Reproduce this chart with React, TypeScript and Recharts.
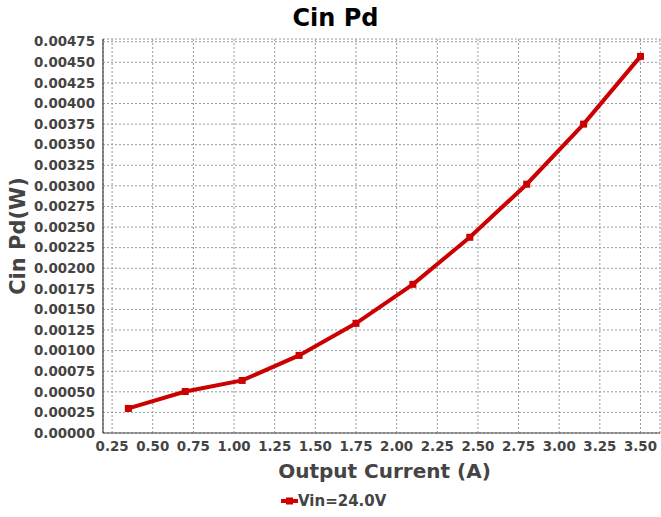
import { LineChart, Line, XAxis, YAxis, CartesianGrid, Label } from 'recharts';

const currents = [0.35, 0.7, 1.05, 1.4, 1.75, 2.1, 2.45, 2.8, 3.15, 3.5];
const cinPd = [0.000298, 0.000504, 0.000638, 0.000942, 0.001331, 0.001805, 0.002376, 0.00302, 0.00375, 0.004572];
const xTicks = [0.25, 0.5, 0.75, 1.0, 1.25, 1.5, 1.75, 2.0, 2.25, 2.5, 2.75, 3.0, 3.25, 3.5];
const yTicks = Array.from({ length: 20 }, (_, i) => +(i * 0.00025).toFixed(5));

const seriesName = 'Vin=24.0V';
const data = currents.map((x, i) => ({ x, y: cinPd[i] }));

const FONT = '"DejaVu Sans", sans-serif';
const RED = '#cc0000';
const tickStyle = { fontFamily: FONT, fontSize: 13.4, fontWeight: 'bold' as const, fill: '#444' };

const SquareDot = (props: any) => {
  const { cx, cy } = props;
  if (cx == null || cy == null) return null;
  return <rect x={cx - 3.5} y={cy - 3.5} width={7} height={7} fill={RED} />;
};

export default function App() {
  return (
    <div style={{ position: 'absolute', left: 0, top: 0, width: 661, height: 517, background: '#fff', fontFamily: FONT }}>
      <div style={{ position: 'absolute', top: 4, left: 5, width: 661, textAlign: 'center', fontSize: 24, fontWeight: 'bold', color: '#000' }}>
        Cin Pd
      </div>
      <LineChart width={661} height={517} data={data} margin={{ top: 39, right: 1, bottom: 0, left: 0 }}>
        <CartesianGrid stroke="#999" strokeDasharray="2 2" fill="#fff" />
        <XAxis
          dataKey="x"
          type="number"
          domain={[0.194, 3.62]}
          ticks={xTicks}
          tickFormatter={(v: number) => v.toFixed(2)}
          tick={tickStyle}
          tickLine={false}
          tickSize={0}
          tickMargin={8}
          height={84}
          stroke="#444"
          interval={0}
        >
          <Label value="Output Current (A)" position="insideTop" offset={31} dx={3} style={{ fontFamily: FONT, fontSize: 20, fontWeight: 'bold', fill: '#444' }} />
        </XAxis>
        <XAxis xAxisId="top" orientation="top" type="number" domain={[0.194, 3.62]} tick={false} tickLine={false} height={0} stroke="#888" />
        <YAxis
          type="number"
          domain={[0, 0.004783]}
          ticks={yTicks}
          tickFormatter={(v: number) => v.toFixed(5)}
          tick={tickStyle}
          tickLine={false}
          tickSize={0}
          tickMargin={8}
          width={103}
          stroke="#222"
          interval={0}
        >
          <Label value="Cin Pd(W)" angle={-90} position="insideLeft" offset={18} style={{ fontFamily: FONT, fontSize: 21, fontWeight: 'bold', fill: '#444', textAnchor: 'middle' }} />
        </YAxis>
        <Line
          type="linear"
          dataKey="y"
          name={seriesName}
          stroke={RED}
          strokeWidth={4}
          dot={<SquareDot />}
          activeDot={false}
          isAnimationActive={false}
        />
      </LineChart>
      <div style={{ position: 'absolute', top: 492, left: 281, display: 'flex', alignItems: 'center', fontSize: 15, fontWeight: 'bold', color: '#444' }}>
        <svg width={17} height={10} style={{ marginRight: 0 }}>
          <line x1={0} y1={5} x2={17} y2={5} stroke={RED} strokeWidth={4} />
          <rect x={5} y={1.5} width={7} height={7} fill={RED} />
        </svg>
        <span>{seriesName}</span>
      </div>
    </div>
  );
}
